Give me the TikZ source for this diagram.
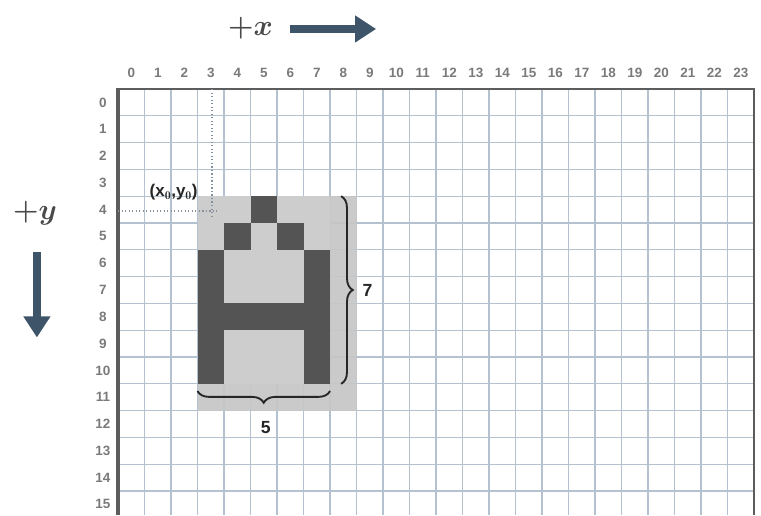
\documentclass[tikz,border=0pt]{standalone}
\usepackage{fontspec}
\setsansfont{Liberation Sans}
\usetikzlibrary{arrows.meta,decorations.pathreplacing}
\definecolor{gridC}{HTML}{B4C2CF}
\definecolor{frameC}{HTML}{5C5C5C}
\definecolor{inkC}{HTML}{4A4A4A}
\definecolor{paleC}{HTML}{C6C6C6}
\definecolor{innerC}{HTML}{CECECE}
\definecolor{arrowC}{HTML}{3E5468}
\definecolor{numC}{HTML}{7A7A7A}
\tikzset{
  gridline/.style={draw=gridC, line width=1pt},
  frame/.style={draw=frameC, line width=2pt},
  numlbl/.style={font=\sffamily\bfseries\fontsize{11.5}{12}\selectfont, text=numC, inner sep=0pt},
  axislbl/.style={font=\boldmath\fontsize{30}{32}\selectfont, text=inkC, inner sep=0pt},
  dimlbl/.style={font=\sffamily\bfseries\fontsize{15}{17}\selectfont, text=black!85, inner sep=0pt},
  axisarrow/.style={arrowC, line width=7pt, -{Triangle[length=18pt,width=22pt]}},
  brc/.style={decorate, decoration={brace, amplitude=10pt}, line width=1.6pt, draw=black!85},
  pointer/.style={draw=gridC!75!black, dotted, line width=1pt},
  darkcell/.style={fill=inkC, fill opacity=0.92},
}

\begin{document}
\begin{tikzpicture}[x=0.795cm, y=-0.804cm]
\useasboundingbox (-4.453,-3.321) rectangle (24.264,15.896);
% grid
\foreach \c in {0,...,24} \draw[gridline] (\c,0) -- (\c,15.9);
\foreach \r in {0,...,15} \draw[gridline] (0,\r) -- (24,\r);
\draw[frame] (0,0) -- (24,0) -- (24,15.9);
\draw[frame, line width=2.6pt] (0,15.9) -- (0,-0.04);
% axis numbers
\foreach \c in {0,...,23} \node[numlbl] (col\c) at (\c+0.5,-0.6) {\c};
\foreach \r in {0,...,15} \node[numlbl] (row\r) at (-0.57,\r+0.5) {\r};
% the letter
\fill[paleC, fill opacity=0.92] (3,4) rectangle (9,12);
\fill[innerC, fill opacity=0.92] (3,4) rectangle (8,11);
\foreach \c/\r in {5/4, 4/5, 6/5, 3/6, 7/6, 3/7, 7/7, 3/8, 4/8, 5/8, 6/8, 7/8, 3/9, 7/9, 3/10, 7/10}
  \fill[darkcell] (\c,\r) rectangle ++(1,1);
% origin of the glyph
\coordinate (xy0) at (3.55,4.55);
\draw[pointer] (3.55,0) -- ([yshift=-4pt]xy0);
\draw[pointer] (0,4.55) -- ([xshift=4pt]xy0);
\node[font=\sffamily\bfseries\fontsize{14.5}{16}\selectfont, text=black!85, inner sep=0pt] (xy0lbl) at (2.1,3.85) {(x$_\mathbf{0}$,y$_\mathbf{0}$)};
% size of the glyph
\coordinate (htop) at (8.42,4);
\coordinate (hbot) at (8.42,11);
\draw[brc] (htop) -- (hbot);
\node[dimlbl] (hlbl) at (9.42,7.5) {7};
\coordinate (wright) at (8,11.27);
\coordinate (wleft) at (3,11.27);
\draw[brc] (wright) -- (wleft);
\node[dimlbl] (wlbl) at (5.58,12.62) {5};
% axes
\node[axislbl] (plusx) at (5.0,-2.25) {$+x$};
\coordinate (xbeg) at (6.49,-2.24);
\coordinate (xend) at (9.74,-2.24);
\draw[axisarrow] (xbeg) -- (xend);
\node[axislbl] (plusy) at (-3.13,4.65) {$+y$};
\coordinate (ybeg) at (-3.06,6.08);
\coordinate (yend) at (-3.06,9.27);
\draw[axisarrow] (ybeg) -- (yend);
\end{tikzpicture}
\end{document}
